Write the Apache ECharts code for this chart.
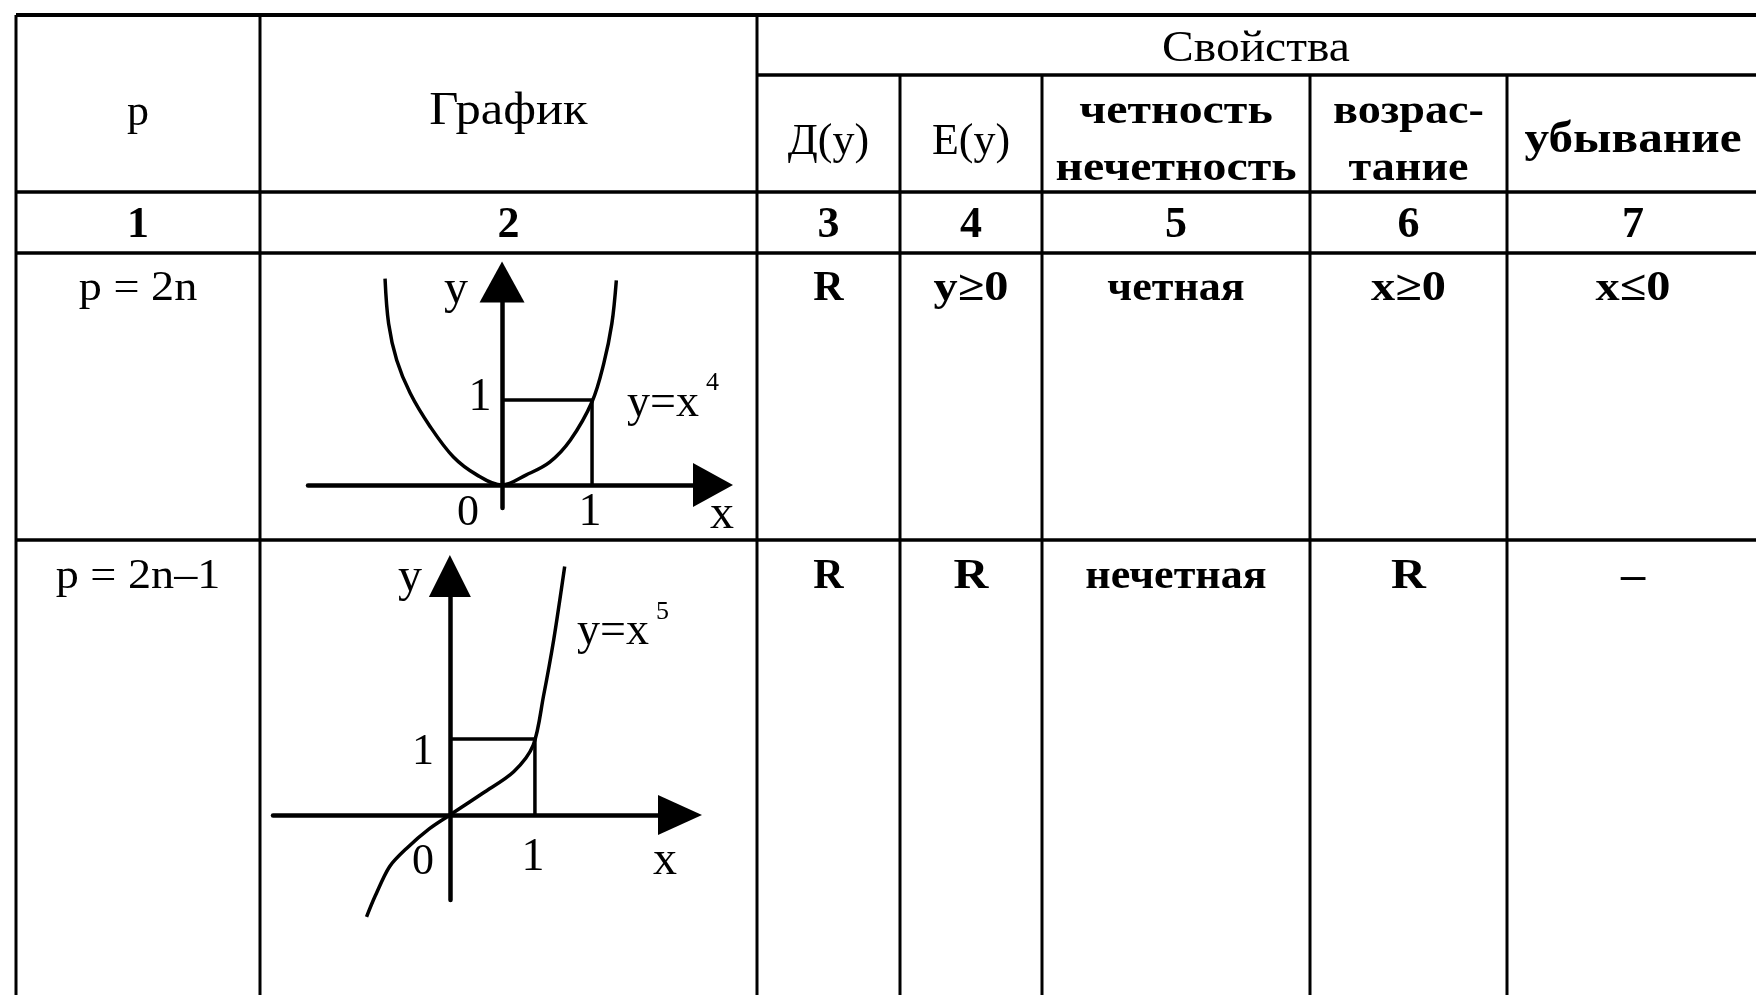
<!DOCTYPE html>
<html>
<head>
<meta charset="utf-8">
<script src="https://cdn.jsdelivr.net/npm/echarts@6/dist/echarts.min.js"></script>
<style>
  html, body { margin: 0; padding: 0; background: #fff; }
  #main { width: 1756px; height: 995px; }
</style>
</head>
<body>
<div id="main"></div>
<script>
// значения, снятые с картинки
// y = x^4 (чётная степень)
const evenX = [-1.30, -1.26, -1.17, -1.02, -0.80, -0.54, -0.28, 0, 0.27, 0.53, 0.76, 1.0, 1.13, 1.22, 1.27];
const evenY = [2.43, 1.90, 1.47, 1.08, 0.69, 0.33, 0.12, 0, 0.12, 0.27, 0.53, 0.98, 1.43, 1.90, 2.41];
// y = x^5 (нечётная степень)
const oddX = [-0.98, -0.88, -0.71, -0.51, -0.24, 0, 0.39, 0.75, 0.98, 1.10, 1.22, 1.35];
const oddY = [-1.34, -1.07, -0.68, -0.44, -0.18, 0, 0.29, 0.57, 0.92, 1.56, 2.30, 3.27];
// направляющие к точке (1; 1)
const guideX = [0, 1, 1];
const guideY = [1, 1, 0];

// текст таблицы
const colNumbers = ['1', '2', '3', '4', '5', '6', '7'];
const rowP = ['p = 2n', 'p = 2n–1'];
const rowDomain = ['R', 'R'];
const rowRange = ['y≥0', 'R'];
const rowParity = ['четная', 'нечетная'];
const rowIncrease = ['x≥0', 'R'];
const rowDecrease = ['x≤0', '–'];

// разметка таблицы (пиксели)
const colX = [16, 260, 757, 900, 1042, 1310, 1507, 1760];
const rowYTop = 15, rowYSub = 75, rowYHead = 192, rowYNum = 253, rowY1 = 540, rowYEnd = 995;

let myChart = echarts.init(document.getElementById('main'), null, { renderer: 'canvas' });

const serif = 'Liberation Serif';
function txt(text, x, y, size, weight, align, sx) {
  return {
    type: 'text',
    x: x, y: y,
    scaleX: sx || 1,
    style: {
      text: text, x: 0, y: 0,
      align: align || 'center', verticalAlign: 'middle',
      font: (weight || 'normal') + ' ' + size + 'px "' + serif + '"',
      fill: '#000'
    }
  };
}
function ln(x1, y1, x2, y2, w) {
  return { type: 'line', shape: { x1: x1, y1: y1, x2: x2, y2: y2 }, style: { stroke: '#000', lineWidth: w || 3 } };
}
function mid(i) { return (colX[i] + colX[i + 1]) / 2; }

let graphics = [];
// горизонтальные линии
graphics.push(ln(colX[0], rowYTop, 1756, rowYTop, 4));
graphics.push(ln(colX[2], rowYSub, 1756, rowYSub, 3.5));
graphics.push(ln(colX[0], rowYHead, 1756, rowYHead, 3.5));
graphics.push(ln(colX[0], rowYNum, 1756, rowYNum, 3.5));
graphics.push(ln(colX[0], rowY1, 1756, rowY1, 3.5));
// вертикальные линии
graphics.push(ln(colX[0], rowYTop, colX[0], rowYEnd, 3));
graphics.push(ln(colX[1], rowYTop, colX[1], rowYEnd, 3));
graphics.push(ln(colX[2], rowYTop, colX[2], rowYEnd, 3));
for (let i = 3; i <= 6; i++) {
  graphics.push(ln(colX[i], rowYSub, colX[i], rowYEnd, 3));
}
// шапка
graphics.push(txt('p', mid(0), 113, 44));
graphics.push(txt('График', mid(1), 112, 46, 'normal', 'center', 1.1));
graphics.push(txt('Свойства', 1256, 49, 44, 'normal', 'center', 1.08));
graphics.push(txt('Д(у)', mid(2), 142, 44));
graphics.push(txt('E(y)', mid(3), 142, 44));
graphics.push(txt('четность', mid(4), 112, 42, 'bold', 'center', 1.14));
graphics.push(txt('нечетность', mid(4), 169, 42, 'bold', 'center', 1.14));
graphics.push(txt('возрас-', mid(5), 112, 42, 'bold', 'center', 1.1));
graphics.push(txt('тание', mid(5), 169, 42, 'bold', 'center', 1.1));
graphics.push(txt('убывание', 1633, 141, 44, 'bold', 'center', 1.12));
colNumbers.forEach(function (n, i) {
  let cx = i === 6 ? 1633 : mid(i);
  graphics.push(txt(n, cx, 226, 44, 'bold'));
});
// строки
const rowTextY = [289, 577];
for (let r = 0; r < 2; r++) {
  let y = rowTextY[r];
  graphics.push(txt(rowP[r], mid(0), y, 42, 'normal', 'center', 1.1));
  graphics.push(txt(rowDomain[r], mid(2), y, 42, 'bold'));
  graphics.push(txt(rowRange[r], mid(3), y, 42, 'bold', 'center', 1.15));
  graphics.push(txt(rowParity[r], mid(4), y, 42, 'bold', 'center', 1.05));
  graphics.push(txt(rowIncrease[r], mid(5), y, 42, 'bold', 'center', 1.15));
  graphics.push(txt(rowDecrease[r], 1633, y, 42, 'bold', 'center', 1.15));
}
// подписи на графиках
graphics.push(txt('y', 456, 290, 48));
graphics.push(txt('1', 480, 398, 46));
graphics.push(txt('0', 468, 513, 44));
graphics.push(txt('1', 590, 513, 46));
graphics.push(txt('x', 722, 515, 48));
graphics.push(txt('y=x', 627, 404, 46, 'normal', 'left'));
graphics.push(txt('4', 706, 383, 26, 'normal', 'left'));

graphics.push(txt('y', 410, 578, 48));
graphics.push(txt('y=x', 577, 632, 46, 'normal', 'left'));
graphics.push(txt('5', 656, 612, 26, 'normal', 'left'));
graphics.push(txt('1', 423, 752, 44));
graphics.push(txt('0', 423, 862, 44));
graphics.push(txt('1', 533, 858, 46));
graphics.push(txt('x', 665, 861, 48));

function axisLine(size) {
  return {
    onZero: true,
    symbol: ['none', 'triangle'],
    symbolSize: size,
    lineStyle: { color: '#000', width: 4.5 }
  };
}
function valAxis(grid, min, max, size) {
  return {
    type: 'value', gridIndex: grid, min: min, max: max,
    axisLine: axisLine(size),
    axisTick: { show: false }, axisLabel: { show: false }, splitLine: { show: false }
  };
}
function curve(xs, ys, grid, smooth) {
  return {
    type: 'line', xAxisIndex: grid, yAxisIndex: grid,
    data: xs.map(function (x, i) { return [x, ys[i]]; }),
    smooth: smooth,
    symbol: 'none', clip: false, silent: true,
    lineStyle: { color: '#000', width: 3.5 }
  };
}

let option = {
  backgroundColor: '#fff',
  animation: false,
  grid: [
    { left: 308, top: 282, width: 405, height: 226 },
    { left: 273, top: 576, width: 407, height: 324 }
  ],
  xAxis: [
    valAxis(0, -2.156, 2.344, [44, 40]),
    valAxis(1, -2.08, 2.706, [40, 44])
  ],
  yAxis: [
    valAxis(0, -0.27, 2.39, [45, 41]),
    valAxis(1, -1.118, 3.145, [42, 42])
  ],
  series: [
    curve(evenX, evenY, 0, 0.35),
    curve(guideX, guideY, 0, false),
    curve(oddX, oddY, 1, 0.3),
    curve(guideX, guideY, 1, false)
  ],
  graphic: graphics
};
myChart.setOption(option);
</script>
</body>
</html>
